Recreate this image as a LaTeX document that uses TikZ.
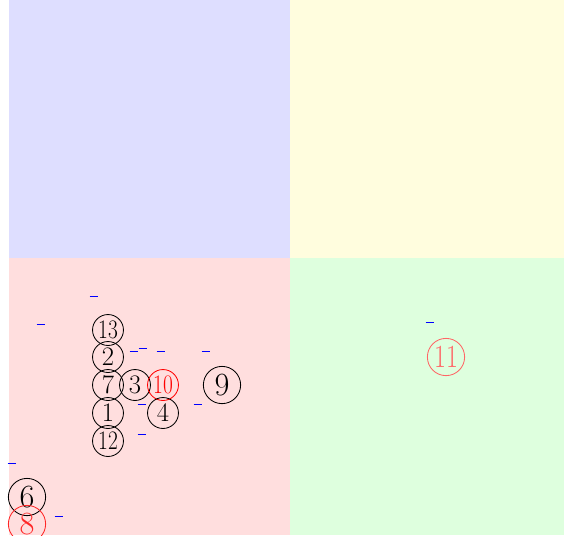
\documentclass[tikz,border=0pt]{standalone}
\usepackage{graphicx}
\usetikzlibrary{positioning}

\newcommand{\narrow}[1]{\scalebox{0.8}[1]{#1}}

\begin{document}
\begin{tikzpicture}[
        x=0.025cm, y=-0.025cm,
        num/.style={draw, circle, inner sep=0pt, minimum size=22pt, line width=0.6pt, font=\fontsize{19}{19}\selectfont},
        bignum/.style={draw, circle, inner sep=0pt, minimum size=26.5pt, line width=0.6pt, font=\fontsize{23}{23}\selectfont},
        tick/.style={inner sep=0pt, text=blue}
    ]
        \useasboundingbox (0,0) rectangle (564,535);

        % Quadrants
        \fill[blue!13] (9,0) rectangle (290,258);
        \fill[yellow!13] (290,0) rectangle (564,258);
        \fill[red!13] (9,258) rectangle (290,535);
        \fill[green!13] (290,258) rectangle (564,535);

        % Nodes
        \node[num] (n13) at (108,330) {\narrow{13}};
        \node[num] (n2) at (108,357) {2};
        \node[num] (n7) at (108,385) {7};
        \node[num] (n1) at (108,413) {1};
        \node[num] (n12) at (108,441) {\narrow{12}};
        \node[num] (n3) at (135,385) {3};
        \node[num, red] (n10) at (163,385) {\narrow{10}};
        \node[num] (n4) at (163,413) {4};
        \node[bignum] (n9) at (222,385) {9};
        \node[bignum] (n6) at (27,497) {6};
        \node[bignum, red!85] (n8) at (27,524) {8};
        \node[bignum, red!60] (n11) at (446,357) {\narrow{11}};

        % Ticks
        \node[tick] (t1) at (94,296) {\rule{6.3pt}{0.6pt}};
        \node[tick] (t2) at (41,324) {\rule{6.3pt}{0.6pt}};
        \node[tick] (t3) at (134,351) {\rule{6.3pt}{0.6pt}};
        \node[tick] (t4) at (143,348) {\rule{6.3pt}{0.6pt}};
        \node[tick] (t5) at (161,351) {\rule{6.3pt}{0.6pt}};
        \node[tick] (t6) at (206,351) {\rule{6.3pt}{0.6pt}};
        \node[tick] (t7) at (142,404) {\rule{6.3pt}{0.6pt}};
        \node[tick] (t8) at (198,404) {\rule{6.3pt}{0.6pt}};
        \node[tick] (t9) at (142,434) {\rule{6.3pt}{0.6pt}};
        \node[tick] (t10) at (12,463) {\rule{6.3pt}{0.6pt}};
        \node[tick] (t11) at (59,516) {\rule{6.3pt}{0.6pt}};
        \node[tick] (t12) at (430,322) {\rule{6.3pt}{0.6pt}};
    \end{tikzpicture}
\end{document}
